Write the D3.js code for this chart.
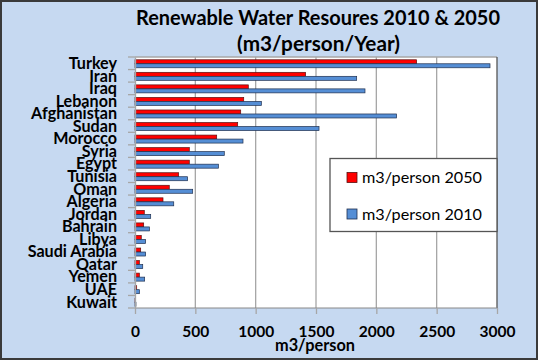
<!DOCTYPE html>
<html><head><meta charset="utf-8">
<script src="https://cdn.jsdelivr.net/npm/d3@7"></script>
<style>body{margin:0;background:#fff}svg{display:block}text{font-family:Lato,"Open Sans",sans-serif;font-weight:bold;fill:#000}</style>
</head><body>
<script>
const countries = ["Turkey","Iran","Iraq","Lebanon","Afghanistan","Sudan","Morocco","Syria","Egypt","Tunisia","Oman","Algeria","Jordan","Bahrain","Libya","Saudi Arabia","Qatar","Yemen","UAE","Kuwait"];
const values2050 = [2334,1414,939,901,876,851,677,450,450,362,284,232,77,72,52,47,36,36,14,3];
const values2010 = [2942,1837,1906,1047,2168,1525,895,740,691,436,478,321,130,119,88,88,64,80,36,8];
const xTicks = [0,500,1000,1500,2000,2500,3000];
const seriesNames = ["m3/person 2050","m3/person 2010"];
const titleLines = ["Renewable Water Resoures 2010 & 2050","(m3/person/Year)"];

const W=538,H=360;
const svg=d3.select("body").append("svg").attr("width",W).attr("height",H);
svg.append("rect").attr("x",1).attr("y",1).attr("width",W-2).attr("height",H-2)
  .attr("fill","#C6D9F1").attr("stroke","#3a3a3a").attr("stroke-width",2);

// scale font-size so a reference text gets the target width
function fit(sel, refNode, target){
  const base=parseFloat(sel.style("font-size"));
  const w=refNode.getComputedTextLength();
  sel.style("font-size",(base*target/w).toFixed(2)+"px");
}

const L=135,R=497,T=57,B=308;
const x=d3.scaleLinear().domain([0,3000]).range([L,R]);
const y=d3.scaleBand().domain(countries).range([T,B]);

svg.append("rect").attr("x",L).attr("y",T).attr("width",R-L).attr("height",B-T).attr("fill","#fff");

// gridlines
svg.append("g").selectAll("line").data(xTicks.slice(1,-1)).join("line")
  .attr("x1",d=>x(d)).attr("x2",d=>x(d)).attr("y1",T).attr("y2",B)
  .attr("stroke","#A6A6A6").attr("stroke-width",1.3);

// bars
const bh=4;
const g=svg.append("g");
g.selectAll("rect.r").data(countries).join("rect").attr("class","r")
  .attr("x",x(0)).attr("y",d=>y(d)+y.bandwidth()/2-3.5)
  .attr("width",(d,i)=>Math.max(0.5,x(values2050[i])-x(0))).attr("height",bh)
  .attr("fill","#FF0000").attr("stroke","#5a1010").attr("stroke-width",0.7);
g.selectAll("rect.b").data(countries).join("rect").attr("class","b")
  .attr("x",x(0)).attr("y",d=>y(d)+y.bandwidth()/2+0.5)
  .attr("width",(d,i)=>Math.max(0.5,x(values2010[i])-x(0))).attr("height",bh)
  .attr("fill","#558ED5").attr("stroke","#1F2F4F").attr("stroke-width",0.7);

// plot border
svg.append("line").attr("x1",L).attr("x2",R).attr("y1",T).attr("y2",T).attr("stroke","#A6A6A6").attr("stroke-width",1.3);
svg.append("line").attr("x1",R).attr("x2",R).attr("y1",T).attr("y2",B).attr("stroke","#555").attr("stroke-width",1.3);
svg.append("line").attr("x1",L).attr("x2",R).attr("y1",B).attr("y2",B).attr("stroke","#888").attr("stroke-width",1);

// y axis
const ya=svg.append("g").attr("transform",`translate(${L},0)`)
  .call(d3.axisLeft(y).tickSize(0).tickPadding(18));
ya.select(".domain").attr("stroke","#A6A6A6").attr("stroke-width",1.3);
const yt=ya.selectAll("text").attr("font-family",null).attr("dy","0.36em").style("font-size","15px");
fit(yt, yt.filter(d=>d==="Afghanistan").node(), 86);
// category boundary ticks
svg.append("g").selectAll("line").data(d3.range(countries.length+1)).join("line")
  .attr("x1",L-7).attr("x2",L).attr("y1",i=>T+i*y.step()).attr("y2",i=>T+i*y.step())
  .attr("stroke","#A6A6A6").attr("stroke-width",1.3);

// x axis
const xa=svg.append("g").attr("transform",`translate(0,${B})`)
  .call(d3.axisBottom(x).tickValues(xTicks).tickSize(6).tickPadding(12).tickFormat(d3.format("d")));
xa.select(".domain").remove();
xa.selectAll("line").attr("stroke","#A6A6A6").attr("stroke-width",1.3);
const xt=xa.selectAll("text").attr("font-family",null).style("font-size","15px");
fit(xt, xt.filter(d=>d===1500).node(), 36);

const xtitle=svg.append("text").attr("x",315).attr("y",350.5).attr("text-anchor","middle").style("font-size","15px").text("m3/person");
fit(xtitle, xtitle.node(), 80);

// title
const t1=svg.append("text").attr("x",318).attr("y",25).attr("text-anchor","middle").style("font-size","19px").text(titleLines[0]);
fit(t1,t1.node(),364);
const t2=svg.append("text").attr("x",318.5).attr("y",51).attr("text-anchor","middle").style("font-size","19px").text(titleLines[1]);
fit(t2,t2.node(),163);

// legend
const lg=svg.append("g");
lg.append("rect").attr("x",330).attr("y",158.5).attr("width",167).attr("height",73).attr("fill","#fff").attr("stroke","#555").attr("stroke-width",1.3);
const lcol=["#FF0000","#558ED5"], lstroke=["#5a1010","#1F2F4F"], ly=[178,214.5];
seriesNames.forEach((s,i)=>{
  lg.append("rect").attr("x",347).attr("y",ly[i]-5.5).attr("width",10).attr("height",10).attr("fill",lcol[i]).attr("stroke",lstroke[i]).attr("stroke-width",0.8);
  const tx=lg.append("text").attr("x",362).attr("y",ly[i]+5).style("font-size","15px").style("font-weight","normal").text(s);
  fit(tx,tx.node(),120);
});
</script>
</body></html>
